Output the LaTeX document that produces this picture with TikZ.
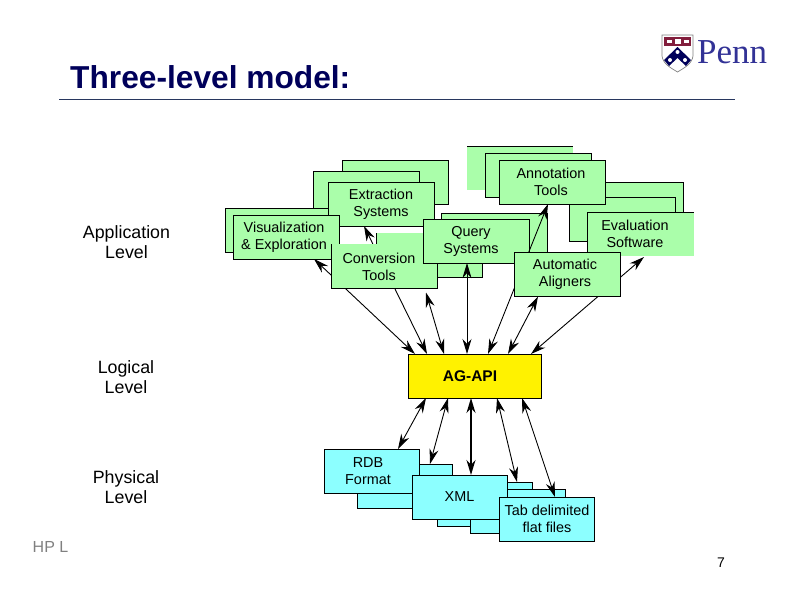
\documentclass[tikz,border=0pt]{standalone}
\usepackage{fontspec}
\setmainfont{Liberation Sans}
\newfontfamily\pennfont{Liberation Serif}
\usetikzlibrary{arrows.meta}
\definecolor{appgreen}{RGB}{170,254,170}
\definecolor{fmtcyan}{RGB}{140,255,255}
\definecolor{titlenavy}{RGB}{0,0,90}
\definecolor{rulenavy}{RGB}{40,55,95}
\definecolor{pennblue}{RGB}{50,50,150}
\definecolor{pennred}{RGB}{130,30,60}
\tikzset{
  appbox/.style={draw=black,line width=.8pt,fill=appgreen,minimum width=106pt,minimum height=44pt,inner sep=0pt,outer sep=0pt,align=center,font=\fontsize{14.4}{17}\selectfont},
  openbox/.style={appbox,draw=none},
  fmtbox/.style={appbox,fill=fmtcyan,minimum width=95pt},
  apibox/.style={appbox,fill=yellow,minimum width=133pt,font=\fontsize{15.5}{17}\selectfont\bfseries},
  levellabel/.style={align=center,inner sep=0pt,font=\fontsize{17.8}{20}\selectfont},
  biarrow/.style={<->,>={Stealth[length=15pt,width=9pt]},line width=.9pt},
}
\begin{document}
\begin{tikzpicture}[x=1pt,y=-1pt]
\useasboundingbox (0,0) rectangle (793,596);

\node[anchor=west,inner sep=0pt,text=titlenavy,font=\fontsize{31.7}{34}\selectfont\bfseries] (title) at (70,77) {Three-level model:};
\node[anchor=west,inner sep=0pt,text=pennblue,font=\fontsize{35}{38}\selectfont\pennfont] (penn) at (697,52) {Penn};
\coordinate (ruleleft) at (59,99);
\coordinate (ruleright) at (735,99);
\draw[rulenavy,line width=.8pt] (ruleleft) -- (ruleright);

\draw[gray,fill=white,line width=.7pt] (662,35) -- (693,35) -- (693,56) .. controls (692,64) and (684,68) .. (677.5,72) .. controls (671,68) and (663,64) .. (662,56) -- cycle;
\fill[pennred] (664,37) rectangle (691,46);
\fill[white] (667,40) rectangle (672,43);
\fill[white] (675,39) rectangle (681,44);
\fill[white] (684,40) rectangle (689,43);
\fill[titlenavy] (677.5,47) -- (691,60) -- (686,66) -- (677.5,58) -- (669,66) -- (664,60) -- cycle;
\fill[white] (677.5,52) circle (2pt);
\fill[white] (670,60) circle (2pt);
\fill[white] (685,60) circle (2pt);

\node[levellabel] (applevel) at (126.5,242) {Application\\Level};
\node[levellabel] (loglevel) at (126,377) {Logical\\Level};
\node[levellabel] (phylevel) at (126,487) {Physical\\Level};

\node[appbox] (extback) at (395.5,182.5) {};
\node[appbox] (extmid) at (366.5,193) {};
\node[appbox] (visback) at (278.5,230) {};
\node[appbox] (ext) at (381,204) {Extraction\\Systems};
\node[appbox] (vis) at (286.5,237) {Visualization\hspace*{5pt}\\\&~Exploration\hspace*{5pt}};

\node[appbox] (evalback) at (630,204) {};
\node[appbox] (evalmid) at (622.5,219) {};
\node[openbox] (annback) at (520,168) {};
\draw[line width=.4pt] (annback.north west) -- (annback.north east);
\node[appbox] (annmid) at (538.5,175) {};
\node[appbox] (ann) at (552.5,182) {Annotation\hspace*{3pt}\\Tools\hspace*{3pt}};
\node[openbox] (eval) at (640.5,234) {Evaluation\hspace*{11pt}\\Software\hspace*{11pt}};
\draw[line width=.8pt] (eval.south west) -- (eval.north west) -- (eval.north east);
\node[appbox] (queryback) at (494,235) {};

\node[openbox] (convback) at (429,255.5) {};
\draw[line width=.8pt] (convback.north west) -- (convback.south west) -- (convback.south east) -- (convback.north east);
\node[apibox] (api) at (474.5,376) {AG-API\hspace*{9pt}};

\draw[biarrow] ([xshift=-59.5pt]api.north) -- ([xshift=27.5pt]vis.south);
\draw[biarrow] ([xshift=-47.5pt]api.north) -- ([xshift=-17pt]ext.south);
\node[openbox] (conv) at (384,266.5) {Conversion\hspace*{10pt}\\Tools\hspace*{10pt}};
\draw[line width=.8pt] (conv.north west) -- (conv.south west) -- (conv.south east) -- (conv.north east);

\node[appbox] (query) at (476.5,241) {Query\hspace*{11pt}\\Systems\hspace*{11pt}};
\draw[biarrow] ([xshift=-30.5pt]api.north) -- ([xshift=42pt,yshift=-4pt]conv.south);
\draw[biarrow] ([xshift=-7.5pt]api.north) -- ([xshift=-9.5pt]query.south);
\draw[biarrow] ([xshift=13.5pt]api.north) -- ([xshift=-4.5pt]ann.south);
\draw[biarrow] ([xshift=56.5pt]api.north) -- ([xshift=3.5pt,yshift=-1pt]eval.south);
\node[appbox] (auto) at (567,274.5) {Automatic\hspace*{4pt}\\Aligners\hspace*{4pt}};
\draw[biarrow] ([xshift=33.5pt]api.north) -- ([xshift=-29pt]auto.south);

\node[fmtbox] (rdbback) at (404.5,486) {};
\node[fmtbox] (rdb) at (371.5,471) {RDB\hspace*{7pt}\\Format\hspace*{7pt}};
\node[fmtbox] (xmlback) at (484.5,504) {};
\node[fmtbox] (tabback) at (518,511) {};
\node[fmtbox] (xml) at (459.5,497) {XML};
\node[fmtbox] (tab) at (547,519) {Tab delimited\\flat files};

\draw[biarrow] ([xshift=-48.5pt]api.south) -- ([xshift=26.5pt]rdb.north);
\draw[biarrow] ([xshift=-26.5pt]api.south) -- ([xshift=25.5pt]rdbback.north);
\draw[biarrow,line width=1.5pt] ([xshift=-3.5pt]api.south) -- ([xshift=11.5pt]xml.north);
\draw[biarrow] ([xshift=22.5pt]api.south) -- ([xshift=32.5pt]xmlback.north);
\draw[biarrow] ([xshift=47.5pt]api.south) -- ([xshift=8pt]tab.north);

\node[inner sep=0pt,text=gray,font=\fontsize{16}{18}\selectfont] (hpl) at (50.5,547) {HP L};
\node[inner sep=0pt,font=\fontsize{14}{16}\selectfont] (pagenum) at (721,563) {7};
\end{tikzpicture}
\end{document}
